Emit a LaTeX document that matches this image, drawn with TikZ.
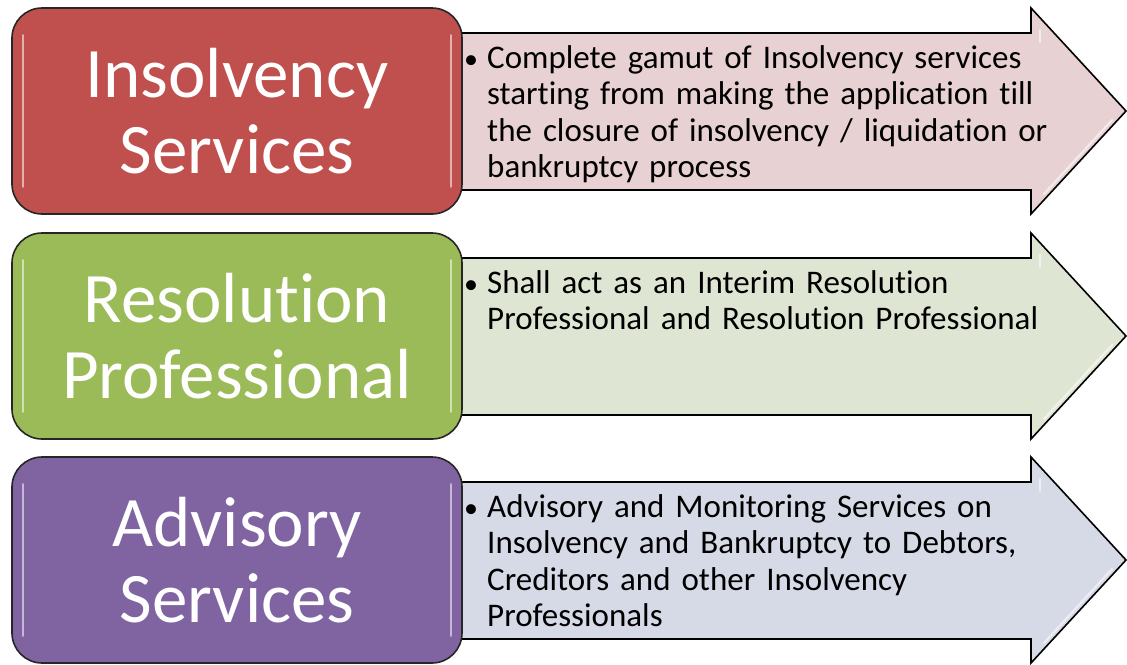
\documentclass[tikz,border=0pt]{standalone}
\usepackage{fontspec}
\setmainfont{Carlito}[Ligatures={NoCommon,NoContextual}]
\definecolor{insred}{HTML}{C0504D}
\definecolor{resgreen}{HTML}{9BBB59}
\definecolor{advpurple}{HTML}{8064A2}
\definecolor{insredlight}{RGB}{232,209,210}
\definecolor{resgreenlight}{RGB}{223,229,211}
\definecolor{advpurplelight}{RGB}{214,217,230}
\begin{document}
\begin{tikzpicture}[x=1pt,y=-1pt,
    titlebox/.style={draw=black!85, line width=1.6pt, rounded corners=30pt,
      minimum width=450pt, minimum height=206pt, inner sep=0pt,
      text=white, align=center, font=\fontsize{71}{76}\selectfont},
    arrowbody/.style={draw=black, line width=1.6pt, line join=miter},
    desc/.style={anchor=base west, inner sep=0pt, text width=600pt, align=left,
      font=\fontsize{33}{36.6}\selectfont},
    dot/.style={anchor=base, inner sep=0pt, font=\fontsize{28}{36}\selectfont},
    gloss/.style={white, opacity=0.55, line width=2.2pt, line cap=round}]
  \useasboundingbox (0,0) rectangle (1127,664);

  % arrows behind the boxes
  \draw[arrowbody, fill=insredlight] (440,33) -- (1031,33) -- (1031,8) -- (1126,111)
    -- (1031,214) -- (1031,190) -- (440,190) -- cycle;
  \draw[arrowbody, fill=resgreenlight] (440,258) -- (1031,258) -- (1031,233) -- (1126,336)
    -- (1031,439) -- (1031,415) -- (440,415) -- cycle;
  \draw[arrowbody, fill=advpurplelight] (440,482) -- (1031,482) -- (1031,457) -- (1126,560)
    -- (1031,663) -- (1031,639) -- (440,639) -- cycle;
  \draw[gloss] (1040,30) -- (1040,42) (1112,120) -- (1044,194);
  \draw[gloss] (1040,255) -- (1040,267) (1112,345) -- (1044,419);
  \draw[gloss] (1040,479) -- (1040,491) (1112,569) -- (1044,643);

  % left boxes
  \node[titlebox, fill=insred] (ins) at (237,111) {Insolvency\\Services};
  \node[titlebox, fill=resgreen] (res) at (237,336) {Resolution\\Professional};
  \node[titlebox, fill=advpurple] (adv) at (237,560) {Advisory\\Services};
  \foreach \b in {ins,res,adv} {
    \draw[gloss] ([xshift=12pt,yshift=-28pt]\b.north west) -- ([xshift=12pt,yshift=28pt]\b.south west);
    \draw[gloss] ([xshift=-12pt,yshift=-28pt]\b.north east) -- ([xshift=-12pt,yshift=28pt]\b.south east);
  }

  % bullet texts
  \node[dot] (b1) at (471,68) {\textbullet};
  \node[desc] (insd) at (487,68) {Complete gamut of Insolvency services\\
    starting from making the application till\\
    the closure of insolvency / liquidation or\\
    bankruptcy process};
  \node[dot] (b2) at (471,293) {\textbullet};
  \node[desc] (resd) at (487,293) {Shall act as an Interim Resolution\\
    Professional and Resolution Professional};
  \node[dot] (b3) at (471,517) {\textbullet};
  \node[desc] (advd) at (487,517) {Advisory and Monitoring Services on\\
    Insolvency and Bankruptcy to Debtors,\\
    Creditors and other Insolvency\\
    Professionals};
\end{tikzpicture}
\end{document}
